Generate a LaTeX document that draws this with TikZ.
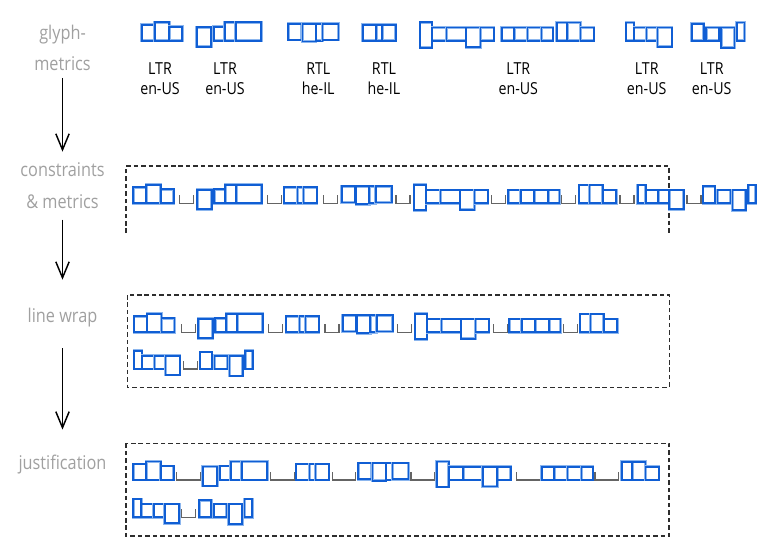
\documentclass[tikz,border=0pt]{standalone}
\usepackage{fontspec}
\usepackage{xcolor}
\usetikzlibrary{arrows.meta}
\newfontfamily\labelfont{Open Sans}[FakeStretch=0.86]

\definecolor{glyphblue}{RGB}{16,94,212}
\definecolor{glyphhalo}{RGB}{140,182,238}
\definecolor{stepgrey}{RGB}{160,160,160}
\definecolor{spacegrey}{RGB}{100,100,100}
\definecolor{boxgrey}{RGB}{45,45,45}

\tikzset{
  glyph/.style={draw=glyphblue, line width=1.25pt, preaction={draw=glyphhalo, line width=2.1pt}},
  wordspace/.style={draw=spacegrey, line width=1pt},
  dashbox/.style={draw=boxgrey, line width=1pt, dash pattern=on 3.4pt off 2.2pt},
  runlabel/.style={font=\labelfont\fontsize{12.4}{14.5}\selectfont, align=center, inner sep=0.75pt},
  steplabel/.style={font=\labelfont\fontsize{14.2}{23.5}\selectfont, text=stepgrey, align=center, inner sep=0.75pt},
  flow/.style={-{Straight Barb[length=12pt,width=10pt]}, line width=1.1pt}
}

% glyph boxes of one word: #1 left x, #2 baseline y, #3 list width/height/depth/gap
\newcommand{\glyphrun}[3]{%
  \xdef\runx{#1}%
  \foreach \gw/\ght/\gdp/\gsp in #3 {%
    \draw[glyph] (\runx,{#2+(\gdp)}) rectangle ++(\gw,{-(\ght)-(\gdp)});
    \pgfmathsetmacro\nextx{\runx+\gw+\gsp}\xdef\runx{\nextx}%
  }%
}
% word space mark: #1 left x, #2 baseline y, #3 width
\newcommand{\spacemark}[3]{%
  \draw[wordspace] (#1,{#2-8}) -- (#1,#2) -- ({#1+#3},#2) -- ({#1+#3},{#2-8});}

% the nine words
\def\wordA{13/16/0/0, 14.5/18.5/0/0, 13/14/0/0}
\def\wordB{14.5/13.5/6/2.5, 11/14/0/0, 11/18.5/0/0, 25.5/18.5/0/0}
\def\wordC{13.5/17/-0.8/0.8, 13.3/17/0.8/0, 6.5/17/0/0, 16/17/-0.8/0}
\def\wordD{13.5/16/0/0, 6/16/0/0, 13.5/16/0/0}
\def\wordE{12/18.5/7/0, 14.5/13.3/0/0, 19.5/13.3/0/0, 14.5/13.3/6.5/0, 13.5/13.3/0/0}
\def\wordF{12.5/13.3/0/0, 13.3/13.3/0/0, 14/13.3/0/0, 11.5/13.3/0/0}
\def\wordG{10.5/18.3/0/0, 13.3/18.3/0/0, 13.5/13.3/0/0}
\def\wordH{8/18.3/0/0, 12.5/13.3/0/0, 11/13.3/0/0, 14.5/13.3/6/0}
\def\wordI{12/17/0/2.5, 13/13.3/0/2, 13.3/13.3/7/2.3, 7.7/18.3/0/0}

\begin{document}
\begin{tikzpicture}[x=0.75pt,y=0.75pt,yscale=-1,xscale=1]
\useasboundingbox (0,0) rectangle (768,547);

% Text Node: steps
\node[steplabel] (glyphlbl) at (62.5,48) {glyph-\\metrics};
\node[steplabel] (conslbl) at (62.5,185.5) {constraints\\\& metrics};
\node[steplabel] (wraplbl) at (62.5,318) {line wrap};
\node[steplabel] (justlbl) at (62.5,465) {justification};

% Arrows
\draw[flow, shorten <=4.3pt, shorten >=7.4pt] (glyphlbl.south) -- (conslbl.north);
\draw[flow, shorten <=7.7pt, shorten >=20.7pt] (conslbl.south) -- (wraplbl.north);
\draw[flow, shorten <=14.6pt, shorten >=18.5pt] (wraplbl.south) -- (justlbl.north);

% glyph metrics row
\glyphrun{141.7}{40.7}{\wordA}
\glyphrun{196.7}{40.7}{\wordB}
\glyphrun{288.3}{40.7}{\wordC}
\glyphrun{362.7}{40.7}{\wordD}
\glyphrun{420}{40.7}{\wordE}
\glyphrun{501.7}{40.7}{\wordF}
\glyphrun{556.7}{40.7}{\wordG}
\glyphrun{626}{40.7}{\wordH}
\glyphrun{691.7}{40.7}{\wordI}

% Text Node: run labels
\foreach \lx/\ldir/\llang/\lname in {160/LTR/en-US/a, 225/LTR/en-US/b, 318.3/RTL/he-IL/c,
    384/RTL/he-IL/d, 518.3/LTR/en-US/e, 646.7/LTR/en-US/h, 711.7/LTR/en-US/i}
  \node[runlabel] (run\lname) at (\lx,78.6) {\ldir\\\llang};

%Shape: open box [constraints]
\draw[dashbox] (126,233) -- (126,166) -- (669,166) -- (669,233);
\glyphrun{133.3}{203.3}{\wordA}
\spacemark{179.3}{203.3}{14}
\glyphrun{197.3}{203.3}{\wordB}
\spacemark{267.3}{203.3}{14}
\glyphrun{284}{203.3}{\wordD}
\spacemark{323.3}{203.3}{14}
\glyphrun{341.7}{203.3}{\wordC}
\spacemark{396}{203.3}{14}
\glyphrun{414}{203.3}{\wordE}
\spacemark{491.7}{203.3}{14}
\glyphrun{508.3}{203.3}{\wordF}
\spacemark{561.7}{203.3}{14}
\glyphrun{579}{203.3}{\wordG}
\spacemark{620}{203.3}{14}
\glyphrun{637.7}{203.3}{\wordH}
\spacemark{687}{203.3}{14}
\glyphrun{703}{203.3}{\wordI}

%Shape: Rectangle [line wrap]
\draw[dashbox] (127.3,295) rectangle (669.3,387.3);
\glyphrun{134}{332.3}{\wordA}
\spacemark{181.7}{332.3}{14}
\glyphrun{198.3}{332.3}{\wordB}
\spacemark{268.3}{332.3}{14}
\glyphrun{286}{332.3}{\wordD}
\spacemark{325}{332.3}{14}
\glyphrun{342.7}{332.3}{\wordC}
\spacemark{397.3}{332.3}{14}
\glyphrun{415}{332.3}{\wordE}
\spacemark{493.3}{332.3}{14}
\glyphrun{509.3}{332.3}{\wordF}
\spacemark{563.3}{332.3}{14}
\glyphrun{580}{332.3}{\wordG}
\glyphrun{134}{369}{\wordH}
\spacemark{183.3}{369}{14}
\glyphrun{200}{369}{\wordI}

%Shape: Rectangle [justification]
\draw[dashbox] (126,443.3) rectangle (669,536);
\glyphrun{133.3}{480}{\wordA}
\spacemark{176.7}{480}{23.5}
\glyphrun{202.7}{480}{\wordB}
\spacemark{270.7}{480}{23.5}
\glyphrun{296}{480}{\wordD}
\spacemark{332.3}{480}{23.5}
\glyphrun{358.3}{480}{\wordC}
\spacemark{411}{480}{23.5}
\glyphrun{436.7}{480}{\wordE}
\spacemark{516.7}{480}{23.5}
\glyphrun{541.7}{480}{\wordF}
\spacemark{595}{480}{23.5}
\glyphrun{621.7}{480}{\wordG}
\glyphrun{133.3}{517.3}{\wordH}
\spacemark{181.7}{517.3}{14}
\glyphrun{199.3}{517.3}{\wordI}

\end{tikzpicture}
\end{document}
